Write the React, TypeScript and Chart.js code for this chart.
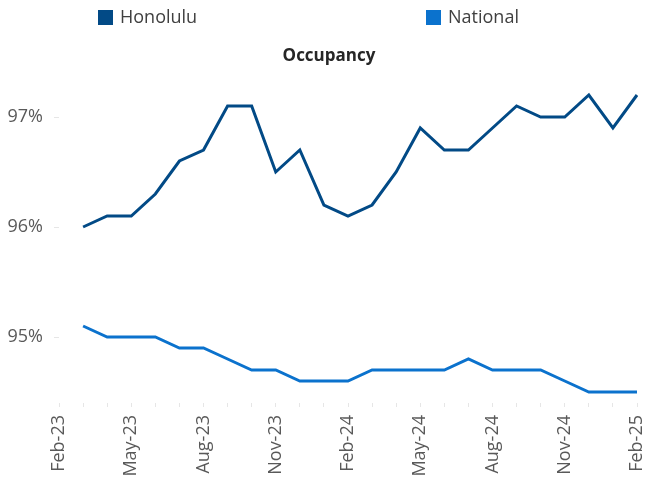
import React, { useEffect, useRef } from "react";
import { Chart, registerables } from "chart.js";

Chart.register(...registerables);

const months: string[] = [
  "Feb-23", "Mar-23", "Apr-23", "May-23", "Jun-23", "Jul-23", "Aug-23", "Sep-23", "Oct-23", "Nov-23", "Dec-23", "Jan-24",
  "Feb-24", "Mar-24", "Apr-24", "May-24", "Jun-24", "Jul-24", "Aug-24", "Sep-24", "Oct-24", "Nov-24", "Dec-24", "Jan-25",
  "Feb-25",
];

const honolulu: (number | null)[] = [
  null, 96.0, 96.1, 96.1, 96.3, 96.6, 96.7, 97.1, 97.1, 96.5, 96.7, 96.2,
  96.1, 96.2, 96.5, 96.9, 96.7, 96.7, 96.9, 97.1, 97.0, 97.0, 97.2, 96.9,
  97.2,
];

const national: (number | null)[] = [
  null, 95.1, 95.0, 95.0, 95.0, 94.9, 94.9, 94.8, 94.7, 94.7, 94.6, 94.6,
  94.6, 94.7, 94.7, 94.7, 94.7, 94.8, 94.7, 94.7, 94.7, 94.6, 94.5, 94.5,
  94.5,
];

const yTicks: number[] = [95, 96, 97];

const TITLE = "Occupancy";
const HONOLULU_COLOR = "#024A86";
const NATIONAL_COLOR = "#0B72CD";
const FONT = "'Open Sans', sans-serif";

const legendPlugin = {
  id: "customLegendTitle",
  afterDraw(chart: any) {
    const ctx = chart.ctx;
    const items = [
      { x: 98, label: "Honolulu", color: HONOLULU_COLOR },
      { x: 426, label: "National", color: NATIONAL_COLOR },
    ];
    ctx.save();
    ctx.font = `18px ${FONT}`;
    ctx.textBaseline = "middle";
    ctx.textAlign = "left";
    items.forEach((it) => {
      ctx.fillStyle = it.color;
      ctx.fillRect(it.x, 10, 15, 15);
      ctx.fillStyle = "#404040";
      ctx.fillText(it.label, it.x + 22, 18);
    });
    ctx.font = `bold 17px ${FONT}`;
    ctx.textAlign = "center";
    ctx.fillStyle = "#262626";
    ctx.fillText(TITLE, 329, 56);
    ctx.restore();
  },
};

export default function App() {
  const canvasRef = useRef<HTMLCanvasElement | null>(null);

  useEffect(() => {
    document.body.style.margin = "0";
    const canvas = canvasRef.current;
    if (!canvas) return;
    const chart = new Chart(canvas, {
      type: "line",
      data: {
        labels: months,
        datasets: [
          {
            label: "Honolulu",
            data: honolulu,
            borderColor: HONOLULU_COLOR,
            backgroundColor: HONOLULU_COLOR,
            borderWidth: 3,
            pointRadius: 0,
            tension: 0,
          },
          {
            label: "National",
            data: national,
            borderColor: NATIONAL_COLOR,
            backgroundColor: NATIONAL_COLOR,
            borderWidth: 3,
            pointRadius: 0,
            tension: 0,
          },
        ],
      },
      options: {
        animation: false,
        responsive: false,
        maintainAspectRatio: false,
        layout: { padding: { top: 73, right: 9, bottom: 0, left: 0 } },
        plugins: {
          legend: { display: false },
          tooltip: { enabled: false },
          title: { display: false },
        },
        scales: {
          x: {
            type: "category",
            offset: false,
            border: { display: false },
            grid: {
              drawOnChartArea: false,
              drawTicks: true,
              tickLength: 4,
              color: "#E6E6E6",
            },
            afterFit: (scale: any) => {
              scale.height = 77;
              scale.paddingLeft = 0;
              scale.paddingRight = 0;
            },
            ticks: {
              autoSkip: false,
              maxRotation: 90,
              minRotation: 90,
              padding: 8,
              color: "#595959",
              font: { family: FONT, size: 18 },
              callback: (_v: any, i: number) => (i % 3 === 0 ? months[i] : ""),
            },
          },
          y: {
            min: 94.4,
            max: 97.4,
            border: { display: false },
            grid: {
              drawOnChartArea: false,
              drawTicks: true,
              tickLength: 5,
              color: "#E6E6E6",
            },
            afterBuildTicks: (scale: any) => {
              scale.ticks = yTicks.map((v) => ({ value: v }));
            },
            afterFit: (scale: any) => {
              scale.width = 59;
            },
            ticks: {
              padding: 11,
              color: "#595959",
              font: { family: FONT, size: 18 },
              callback: (v: any) => `${v}%`,
            },
          },
        },
      },
      plugins: [legendPlugin],
    });
    return () => chart.destroy();
  }, []);

  return (
    <div style={{ width: 646, height: 480, background: "#fff" }}>
      <canvas ref={canvasRef} width={646} height={480} style={{ display: "block" }} />
    </div>
  );
}
